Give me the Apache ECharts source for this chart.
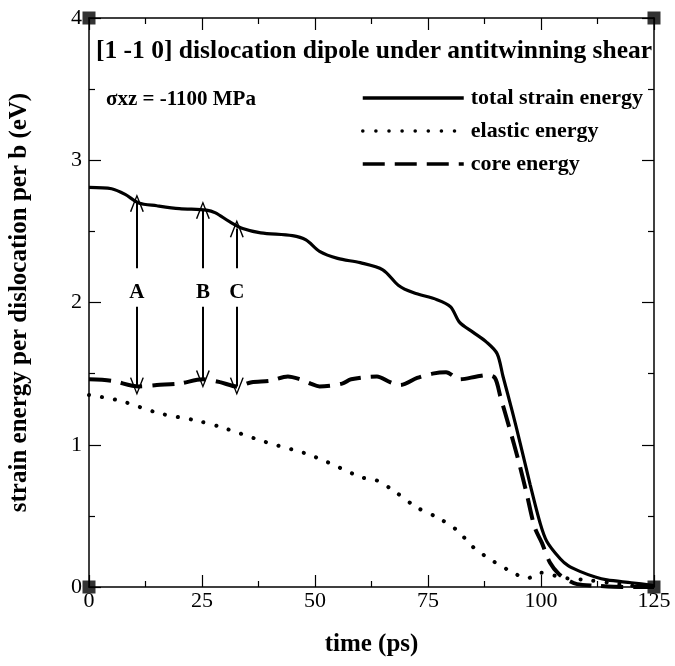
<!DOCTYPE html>
<html>
<head>
<meta charset="utf-8">
<script src="https://cdn.jsdelivr.net/npm/echarts@6/dist/echarts.min.js"></script>
<style>html,body{margin:0;padding:0;background:#fff}#c{width:675px;height:666px}</style>
</head>
<body>
<div id="c"></div>
<script>
// ---- data ----
var timeTotal = [0,5,8,11,15,20,26,28,31,34,38,45,48,51,55,60,65,68.5,71.7,77,80,82,85,88,90.3,91.6,93.6,95.4,97.6,99.8,101.3,104.2,106,108.6,112,114.6,120,125];
var totalEnergy = [2.81,2.80,2.76,2.70,2.68,2.66,2.65,2.63,2.57,2.52,2.49,2.47,2.44,2.36,2.31,2.28,2.23,2.12,2.07,2.02,1.97,1.86,1.79,1.72,1.64,1.48,1.24,1.01,0.72,0.45,0.32,0.20,0.15,0.11,0.07,0.05,0.03,0.01];
var timeElastic = [0,6.8,15.7,23.8,29.6,39,47.8,52.6,60.4,63.6,67.7,72.5,77,81.4,85,89.5,93.9,96.9,99.8,103,106,110,115,120,125];
var elasticEnergy = [1.35,1.31,1.22,1.17,1.12,1.02,0.94,0.88,0.77,0.75,0.67,0.56,0.49,0.40,0.28,0.18,0.10,0.06,0.10,0.08,0.06,0.05,0.03,0.01,0.0];
var timeCore = [0,5,11,15,20,25.2,29,32.7,36,40,44,46.7,49,51,56,58,63.7,66.6,68.8,72.6,76,79,82,85.8,88,89.8,91,93,95,96.8,98.6,100.2,102,104,106.4,108,111.5,118,125];
var coreEnergy = [1.46,1.45,1.41,1.42,1.43,1.46,1.44,1.41,1.44,1.45,1.48,1.46,1.43,1.41,1.43,1.46,1.48,1.44,1.42,1.47,1.50,1.51,1.46,1.48,1.49,1.47,1.34,1.12,0.89,0.66,0.42,0.31,0.17,0.09,0.04,0.02,0.01,0.0,0.0];
var seriesNames = ['total strain energy','elastic energy','core energy'];
var corners = [[0,0],[125,0],[0,4],[125,4]];
// arrows
var arrowT = [10.6, 25.2, 32.7];
var arrowUpTo = [2.70, 2.65, 2.52];
var arrowDownTo = [1.41, 1.46, 1.41];
var arrowUpFrom = 2.24, arrowDownFrom = 1.97, letterY = 2.07;
var arrowLetters = ['A','B','C'];
var titleText = '[1 -1 0] dislocation dipole under antitwinning shear';
var stressText = 'σxz = -1100 MPa';

function pairs(xs, ys){ return xs.map(function(x,i){ return [x, ys[i]]; }); }
var SERIF = '"Liberation Serif", "Times New Roman", serif';
var chevron = 'path://M0,20 L10,0 L20,20 L18,20.5 L10,4 L2,20.5 Z';

var arrowLines = [];
arrowT.forEach(function(t,i){
  arrowLines.push([{coord:[t, arrowUpFrom]},{coord:[t, arrowUpTo[i]]}]);
  arrowLines.push([{coord:[t, arrowDownFrom]},{coord:[t, arrowDownTo[i]]}]);
});
var letterPoints = arrowT.map(function(t,i){ return {coord:[t, letterY], value: arrowLetters[i]}; });

var axisCommon = {
  type:'value', min:0,
  axisLine:{show:true, onZero:false, lineStyle:{color:'#000', width:1.5}},
  axisTick:{show:true, inside:true, length:12, lineStyle:{color:'#000', width:1.2}},
  minorTick:{show:true, splitNumber:2, length:6, lineStyle:{color:'#000', width:1.2}},
  splitLine:{show:false}, minorSplitLine:{show:false}
};
function ax(extra){ return Object.assign({}, JSON.parse(JSON.stringify(axisCommon)), extra); }

var chart = echarts.init(document.getElementById('c'), null, {renderer:'canvas'});
chart.setOption({
  animation:false,
  backgroundColor:'#fff',
  grid:{left:89, right:21, top:18, bottom:79, containLabel:false, outerBoundsMode:'none'},
  title:[
    {text:titleText, left:91, top:33, textStyle:{fontFamily:SERIF, fontWeight:'bold', fontSize:25.5, color:'#000'}},
    {text:stressText, left:101, top:84, textStyle:{fontFamily:SERIF, fontWeight:'bold', fontSize:21, color:'#000'}}
  ],
  legend:{
    data:seriesNames, orient:'vertical', left:356, top:82, itemWidth:101, itemHeight:14, itemGap:11,
    itemStyle:{opacity:0}, lineStyle:{width:3.5},
    textStyle:{fontFamily:SERIF, fontWeight:'bold', fontSize:22, color:'#000', padding:[0,0,0,2]}, selectedMode:false
  },
  xAxis:[
    ax({position:'bottom', max:125, interval:25, name:'time (ps)', nameLocation:'middle', nameGap:45,
        nameTextStyle:{fontFamily:SERIF, fontWeight:'bold', fontSize:25, color:'#000'},
        axisLabel:{fontFamily:SERIF, fontSize:22, color:'#000', margin:3}}),
    ax({position:'top', max:125, interval:25, axisLabel:{show:false}})
  ],
  yAxis:[
    ax({position:'left', max:4, interval:1, name:'strain energy per dislocation per b (eV)', nameLocation:'middle', nameGap:57,
        nameTextStyle:{fontFamily:SERIF, fontWeight:'bold', fontSize:25, color:'#000'},
        axisLabel:{fontFamily:SERIF, fontSize:22, color:'#000', margin:7}}),
    ax({position:'right', max:4, interval:1, axisLabel:{show:false}})
  ],
  series:[
    {name:seriesNames[0], type:'line', data:pairs(timeTotal,totalEnergy), symbol:'none', smooth:0.3,
     lineStyle:{color:'#000', width:3.2}, itemStyle:{color:'#000'},
     markLine:{silent:true, symbol:['none', chevron], symbolSize:[14,18], lineStyle:{color:'#000', width:2, type:'solid'},
       label:{show:false}, data:arrowLines},
     markPoint:{symbol:'circle', symbolSize:0, label:{show:true, formatter:'{c}', fontFamily:SERIF, fontWeight:'bold', fontSize:21, color:'#000'},
       data:letterPoints}
    },
    {name:seriesNames[1], type:'line', data:pairs(timeElastic,elasticEnergy), symbol:'none', smooth:0.3,
     lineStyle:{color:'#000', width:4, type:[0.1,13], cap:'round'}, itemStyle:{color:'#000'}},
    {name:seriesNames[2], type:'line', data:pairs(timeCore,coreEnergy), symbol:'none', smooth:0.3,
     lineStyle:{color:'#000', width:4, type:[22,10]}, itemStyle:{color:'#000'}},
    {name:'corners', type:'scatter', data:corners, symbol:'rect', symbolSize:13, itemStyle:{color:'#000'}, silent:true, z:10}
  ]
});
</script>
</body>
</html>
